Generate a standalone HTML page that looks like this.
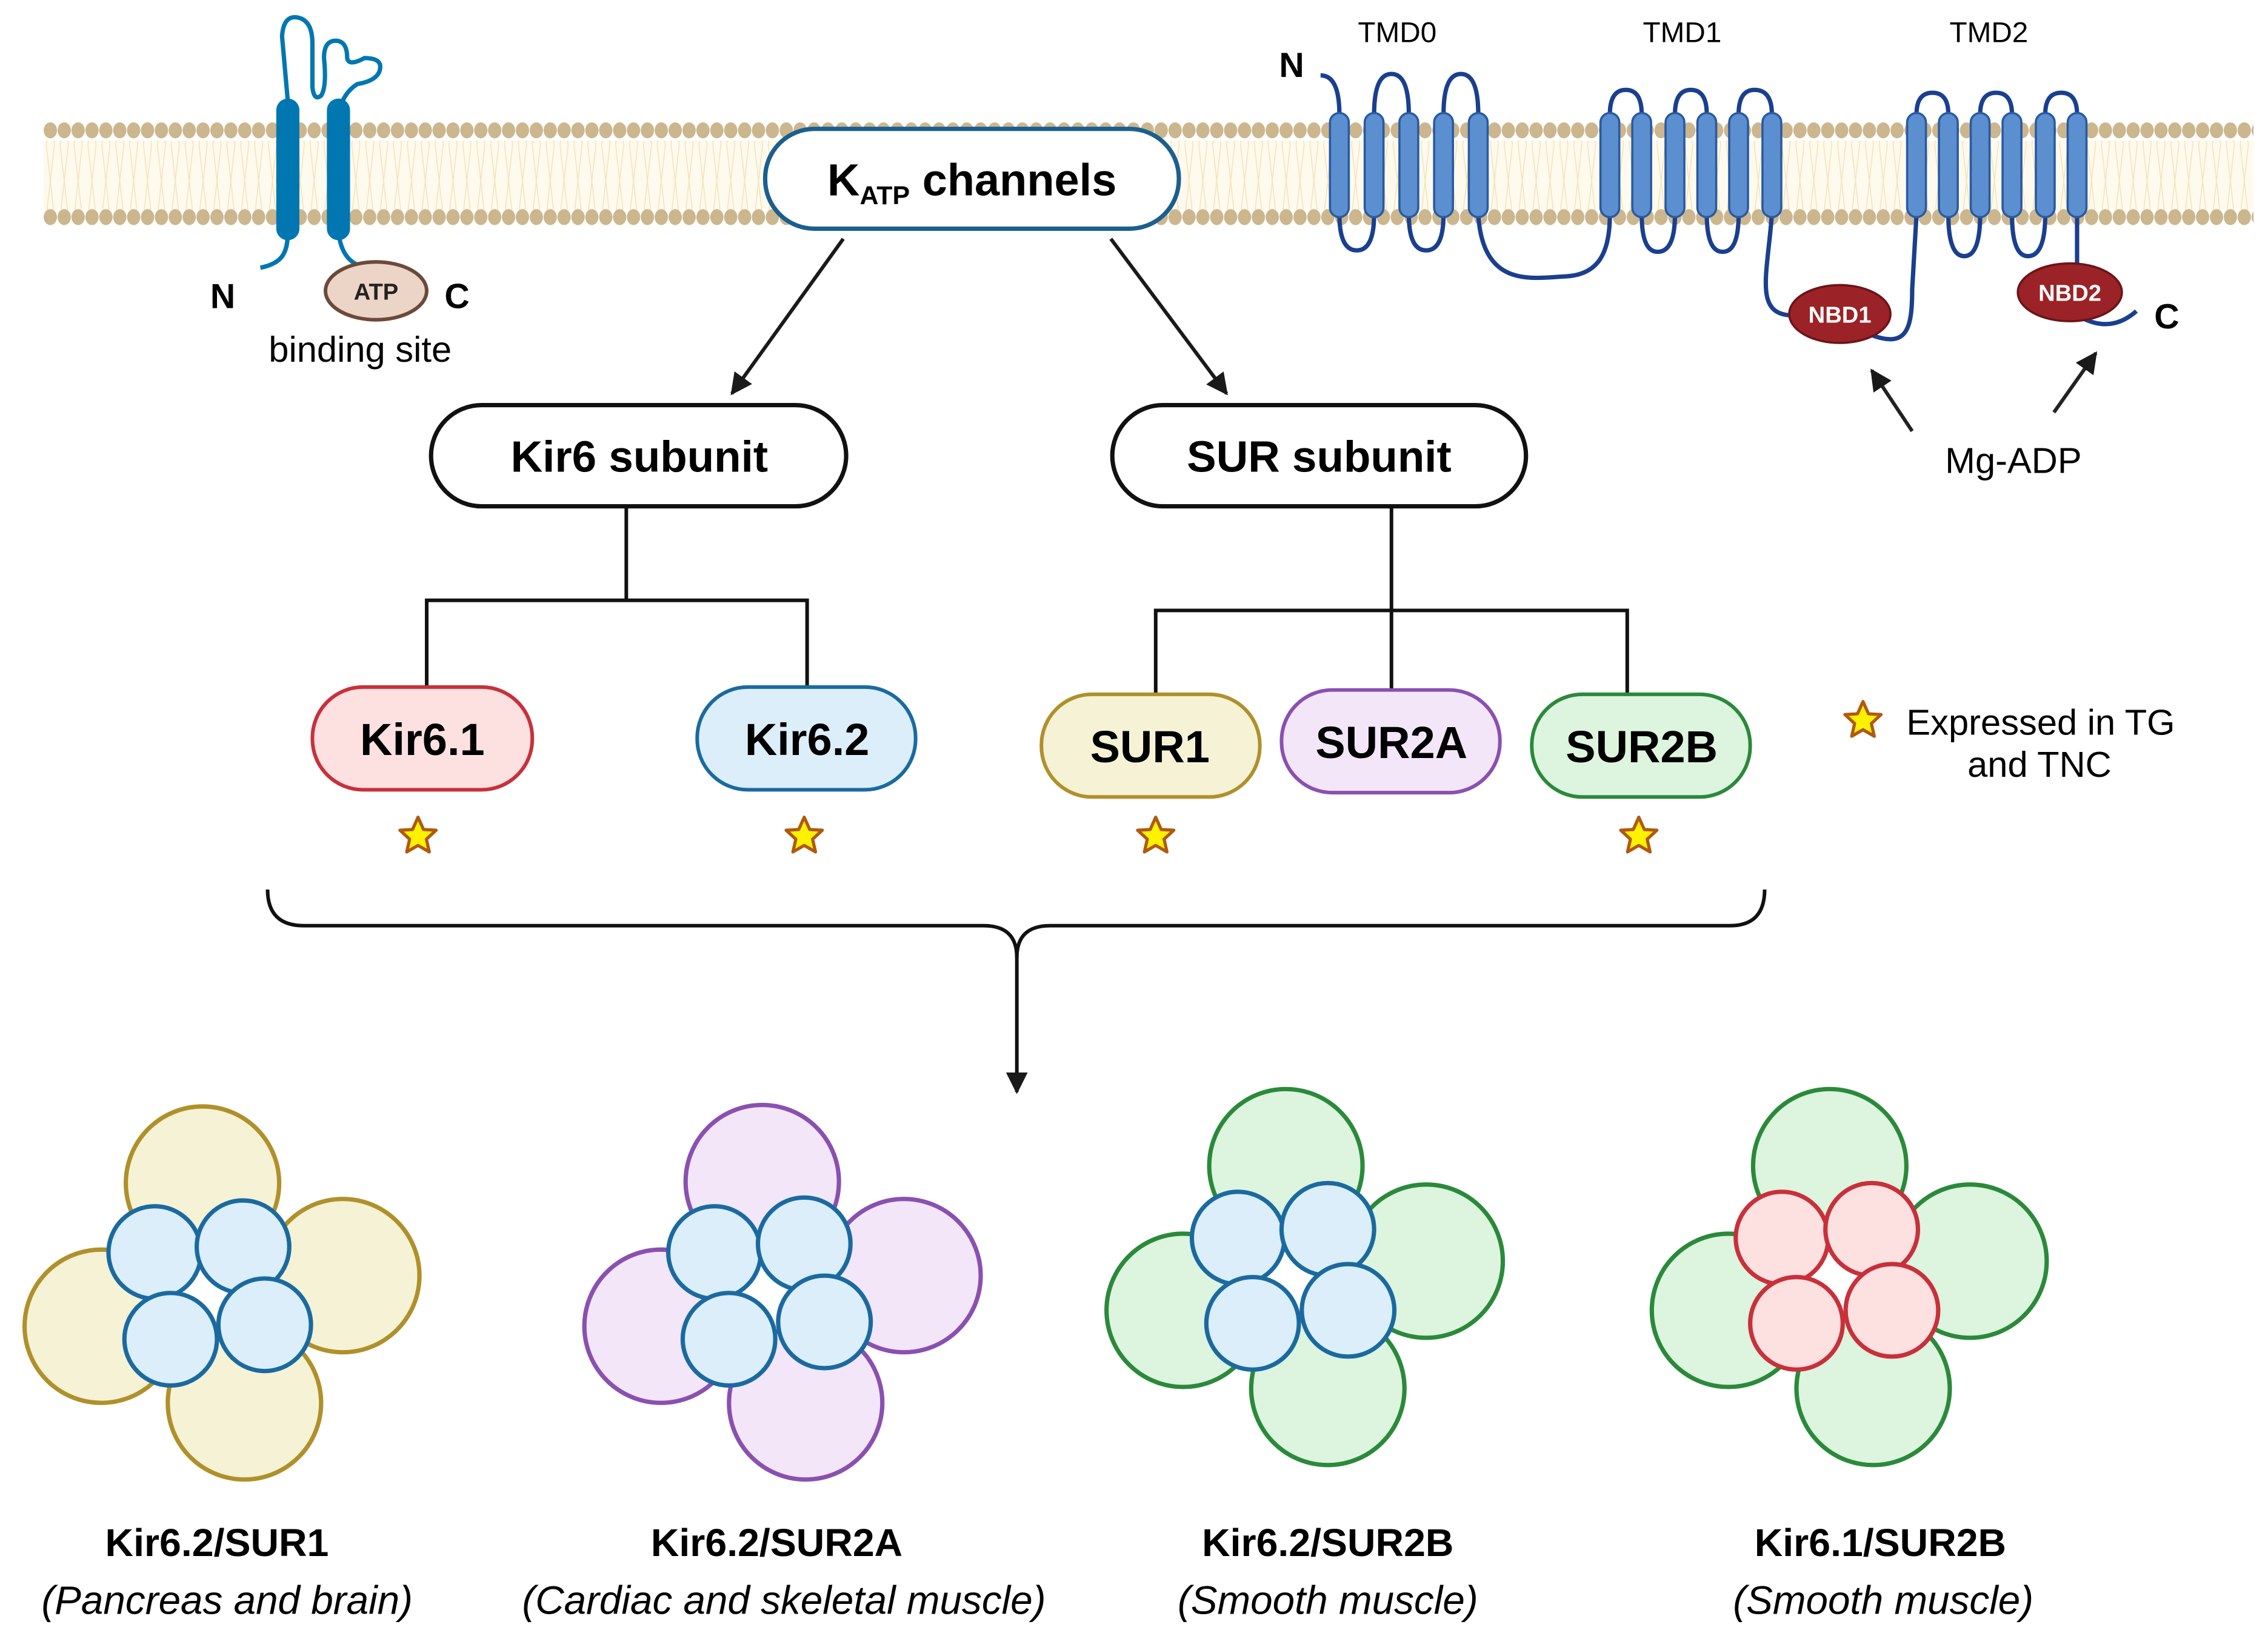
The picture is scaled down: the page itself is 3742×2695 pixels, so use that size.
<!DOCTYPE html>
<html><head><meta charset="utf-8"><style>
html,body{margin:0;padding:0;background:#fff}
svg{display:block}
text{font-family:"Liberation Sans",Arial,sans-serif}
</style></head><body>
<svg width="3742" height="2695" viewBox="0 0 1568 1129" xmlns="http://www.w3.org/2000/svg">
<defs>
<pattern id="heads" x="30" y="0" width="9.6" height="20" patternUnits="userSpaceOnUse">
<ellipse cx="4.8" cy="10" rx="4.6" ry="5.5" fill="#cbb68e"/>
</pattern>
<pattern id="tails" x="30" y="0" width="9.6" height="50" patternUnits="userSpaceOnUse">
<path d="M2,0 L4.8,25 L7.6,0 M2,50 L4.8,25 L7.6,50" stroke="#f5e4bc" stroke-width="0.7" fill="none"/>
</pattern>
<marker id="ah" viewBox="0 0 10 10" refX="9" refY="5" markerWidth="6" markerHeight="6" orient="auto"><path d="M0,0 L10,5 L0,10 z" fill="#1a1a1a"/></marker>
<g id="star"><path d="M0,-13 L3.8,-4.5 L12.5,-4 L5.8,2.2 L7.8,11 L0,6.5 L-7.8,11 L-5.8,2.2 L-12.5,-4 L-3.8,-4.5 z" fill="#fff200" stroke="#b05a10" stroke-width="2.2" stroke-linejoin="round"/></g>
</defs>

<!-- membrane -->
<rect x="30" y="97" width="1528" height="48" fill="#fffaee"/>
<rect x="30" y="97" width="1528" height="48" fill="url(#tails)"/>
<rect x="30" y="83" width="1528" height="20" fill="url(#heads)"/>
<rect x="30" y="140" width="1528" height="20" fill="url(#heads)"/>

<!-- Kir channel -->
<path d="M180,185 C195,182 199,175 199,160 L199,70 L195,25 Q196,10 206,12 Q216,14 216,30 L216,60 Q217,70 222,66 Q226,60 224,40 Q224,28 232,28 Q240,28 240,40 Q241,46 252,40 Q266,40 262,50 Q259,56 247,58 Q236,65 234,80 L234,160 Q236,180 250,184" fill="none" stroke="#0077b0" stroke-width="3"/>
<rect x="191" y="68" width="16" height="98" rx="8" fill="#0077b0"/>
<rect x="226" y="68" width="16" height="98" rx="8" fill="#0077b0"/>
<ellipse cx="260" cy="201" rx="35" ry="20" fill="#ecd5c6" stroke="#6b4a3a" stroke-width="2.5"/>
<text x="260" y="207" font-size="16" font-weight="bold" text-anchor="middle" fill="#222">ATP</text>
<text x="154" y="213" font-size="24" font-weight="bold" text-anchor="middle">N</text>
<text x="316" y="213" font-size="24" font-weight="bold" text-anchor="middle">C</text>
<text x="249" y="250" font-size="25" text-anchor="middle">binding site</text>

<!-- SUR protein -->
<path d="M913,52 Q926,52 926,79 L926,148 Q926,173 938,173 Q950,173 950,148 L950,79 Q950,51 962,51 Q974,51 974,79 L974,148 Q974,173 986,173 Q998,173 998,148 L998,79 Q998,51 1010,51 Q1022,51 1022,79 L1022,148 C1025,200 1060,192 1082,191 C1105,190 1113,175 1113,148 L1113,79 Q1113,62 1124,62 Q1135,62 1135,79 L1135,148 Q1135,174 1146,174 Q1158,174 1158,148 L1158,79 Q1158,62 1169,62 Q1180,62 1180,79 L1180,148 Q1180,174 1191,174 Q1202,174 1202,148 L1202,79 Q1202,62 1213,62 Q1225,62 1225,79 L1225,148 C1222,190 1212,218 1240,218" fill="none" stroke="#1a3f8f" stroke-width="3"/>
<path d="M1295,232 C1318,240 1322,228 1322,200 L1325,148 L1325,79 Q1325,64 1336,64 Q1347,64 1347,79 L1347,148 Q1347,177 1358,177 Q1369,177 1369,148 L1369,79 Q1369,64 1380,64 Q1391,64 1391,79 L1391,148 Q1391,177 1402,177 Q1414,177 1414,148 L1414,79 Q1414,64 1425,64 Q1436,64 1436,79 L1436,185" fill="none" stroke="#1a3f8f" stroke-width="3"/>
<path d="M1440,220 Q1460,230 1477,215" fill="none" stroke="#1a3f8f" stroke-width="3"/>
<g fill="#5b8fd0" stroke="#2a5aa0" stroke-width="1.5">
<rect x="919.5" y="78" width="13" height="72" rx="6.5"/><rect x="943.5" y="78" width="13" height="72" rx="6.5"/><rect x="967.5" y="78" width="13" height="72" rx="6.5"/><rect x="991.5" y="78" width="13" height="72" rx="6.5"/><rect x="1015.5" y="78" width="13" height="72" rx="6.5"/>
<rect x="1106.5" y="78" width="13" height="72" rx="6.5"/><rect x="1128.5" y="78" width="13" height="72" rx="6.5"/><rect x="1151.5" y="78" width="13" height="72" rx="6.5"/><rect x="1173.5" y="78" width="13" height="72" rx="6.5"/><rect x="1195.5" y="78" width="13" height="72" rx="6.5"/><rect x="1218.5" y="78" width="13" height="72" rx="6.5"/>
<rect x="1318.5" y="78" width="13" height="72" rx="6.5"/><rect x="1340.5" y="78" width="13" height="72" rx="6.5"/><rect x="1362.5" y="78" width="13" height="72" rx="6.5"/><rect x="1384.5" y="78" width="13" height="72" rx="6.5"/><rect x="1407.5" y="78" width="13" height="72" rx="6.5"/><rect x="1429.5" y="78" width="13" height="72" rx="6.5"/>
</g>
<ellipse cx="1272" cy="217" rx="35" ry="20" fill="#9b2226" stroke="#6a1518" stroke-width="1.5"/>
<text x="1272" y="223" font-size="16" font-weight="bold" text-anchor="middle" fill="#fff">NBD1</text>
<ellipse cx="1431" cy="202" rx="36" ry="20" fill="#9b2226" stroke="#6a1518" stroke-width="1.5"/>
<text x="1431" y="208" font-size="16" font-weight="bold" text-anchor="middle" fill="#fff">NBD2</text>
<text x="893" y="53" font-size="24" font-weight="bold" text-anchor="middle">N</text>
<text x="1498" y="227" font-size="24" font-weight="bold" text-anchor="middle">C</text>
<text x="966" y="29" font-size="20" text-anchor="middle">TMD0</text>
<text x="1163" y="29" font-size="20" text-anchor="middle">TMD1</text>
<text x="1375" y="29" font-size="20" text-anchor="middle">TMD2</text>
<text x="1392" y="327" font-size="25" text-anchor="middle">Mg-ADP</text>
<line x1="1322" y1="298" x2="1294" y2="256" stroke="#222" stroke-width="2.5" marker-end="url(#ah)"/>
<line x1="1420" y1="285" x2="1449" y2="244" stroke="#222" stroke-width="2.5" marker-end="url(#ah)"/>

<!-- KATP box -->
<rect x="529" y="89" width="286" height="69" rx="34" fill="#fff" stroke="#1a5f8f" stroke-width="3"/>
<text x="672" y="135" font-size="31" font-weight="bold" text-anchor="middle">K<tspan font-size="18" dy="6">ATP</tspan><tspan dy="-6"> channels</tspan></text>
<line x1="583" y1="165" x2="506" y2="272" stroke="#1a1a1a" stroke-width="2.5" marker-end="url(#ah)"/>
<line x1="768" y1="165" x2="848" y2="272" stroke="#1a1a1a" stroke-width="2.5" marker-end="url(#ah)"/>

<rect x="298" y="280" width="287" height="70" rx="35" fill="#fff" stroke="#111" stroke-width="3"/>
<text x="442" y="326" font-size="30.5" font-weight="bold" text-anchor="middle">Kir6 subunit</text>
<rect x="769" y="280" width="286" height="70" rx="35" fill="#fff" stroke="#111" stroke-width="3"/>
<text x="912" y="326" font-size="30.5" font-weight="bold" text-anchor="middle">SUR subunit</text>

<g stroke="#111" stroke-width="2.5" fill="none">
<path d="M433,350 V415 M295,475 V415 H558 V475"/>
<path d="M962,350 V477 M799,480 V422 H1125 V480"/>
</g>

<g font-size="31" font-weight="bold" text-anchor="middle">
<rect x="216" y="475" width="152" height="71" rx="35" fill="#fde0e0" stroke="#c8303a" stroke-width="2.5"/>
<text x="292" y="522">Kir6.1</text>
<rect x="482" y="475" width="151" height="71" rx="35" fill="#dbeefa" stroke="#1a6aa0" stroke-width="2.5"/>
<text x="558" y="522">Kir6.2</text>
<rect x="720" y="480" width="151" height="71" rx="35" fill="#f6f2d6" stroke="#b0902a" stroke-width="2.5"/>
<text x="795" y="527">SUR1</text>
<rect x="886" y="477" width="151" height="71" rx="35" fill="#f3e6f8" stroke="#8a50b0" stroke-width="2.5"/>
<text x="962" y="524">SUR2A</text>
<rect x="1059" y="480" width="151" height="71" rx="35" fill="#ddf4df" stroke="#2a8a3a" stroke-width="2.5"/>
<text x="1135" y="527">SUR2B</text>
</g>

<use href="#star" x="289" y="578"/>
<use href="#star" x="556" y="578"/>
<use href="#star" x="799" y="578"/>
<use href="#star" x="1133" y="578"/>
<use href="#star" x="1288" y="498"/>
<text x="1318" y="508" font-size="25">Expressed in TG</text>
<text x="1410" y="537" font-size="25" text-anchor="middle">and TNC</text>

<!-- brace -->
<path d="M185,615 Q185,640 210,640 H680 Q703,640 703,662 Q703,640 726,640 H1196 Q1220,640 1220,615" fill="none" stroke="#111" stroke-width="2.5"/>
<line x1="703" y1="660" x2="703" y2="755" stroke="#111" stroke-width="2.5" marker-end="url(#ah)"/>

<!-- clusters -->
<g stroke-width="3">
<g fill="#f6f2d6" stroke="#b0902a"><circle cx="140" cy="818" r="53"/><circle cx="237" cy="882" r="53"/><circle cx="70" cy="917" r="53"/><circle cx="169" cy="970" r="53"/></g>
<g fill="#dbeefa" stroke="#1a6aa0"><circle cx="107" cy="866" r="32"/><circle cx="168" cy="862" r="32"/><circle cx="118" cy="926" r="32"/><circle cx="183" cy="916" r="32"/></g>
<g fill="#f3e6f8" stroke="#8a50b0"><circle cx="527" cy="817" r="53"/><circle cx="625" cy="882" r="53"/><circle cx="457" cy="917" r="53"/><circle cx="557" cy="970" r="53"/></g>
<g fill="#dbeefa" stroke="#1a6aa0"><circle cx="494" cy="866" r="32"/><circle cx="556" cy="860" r="32"/><circle cx="504" cy="926" r="32"/><circle cx="570" cy="914" r="32"/></g>
<g fill="#ddf4df" stroke="#2a8a3a"><circle cx="889" cy="806" r="53"/><circle cx="986" cy="872" r="53"/><circle cx="818" cy="906" r="53"/><circle cx="918" cy="960" r="53"/></g>
<g fill="#dbeefa" stroke="#1a6aa0"><circle cx="856" cy="856" r="32"/><circle cx="918" cy="850" r="32"/><circle cx="866" cy="915" r="32"/><circle cx="932" cy="906" r="32"/></g>
<g fill="#ddf4df" stroke="#2a8a3a"><circle cx="1265" cy="806" r="53"/><circle cx="1362" cy="872" r="53"/><circle cx="1195" cy="906" r="53"/><circle cx="1295" cy="960" r="53"/></g>
<g fill="#fde0e0" stroke="#c8303a"><circle cx="1232" cy="856" r="32"/><circle cx="1294" cy="850" r="32"/><circle cx="1242" cy="915" r="32"/><circle cx="1308" cy="906" r="32"/></g>
</g>

<g font-size="27" font-weight="bold" text-anchor="middle">
<text x="150" y="1076">Kir6.2/SUR1</text>
<text x="537" y="1076">Kir6.2/SUR2A</text>
<text x="918" y="1076">Kir6.2/SUR2B</text>
<text x="1300" y="1076">Kir6.1/SUR2B</text>
</g>
<g font-size="27.5" font-style="italic" text-anchor="middle">
<text x="157" y="1116">(Pancreas and brain)</text>
<text x="542" y="1116">(Cardiac and skeletal muscle)</text>
<text x="918" y="1116">(Smooth muscle)</text>
<text x="1302" y="1116">(Smooth muscle)</text>
</g>
</svg>
</body></html>
